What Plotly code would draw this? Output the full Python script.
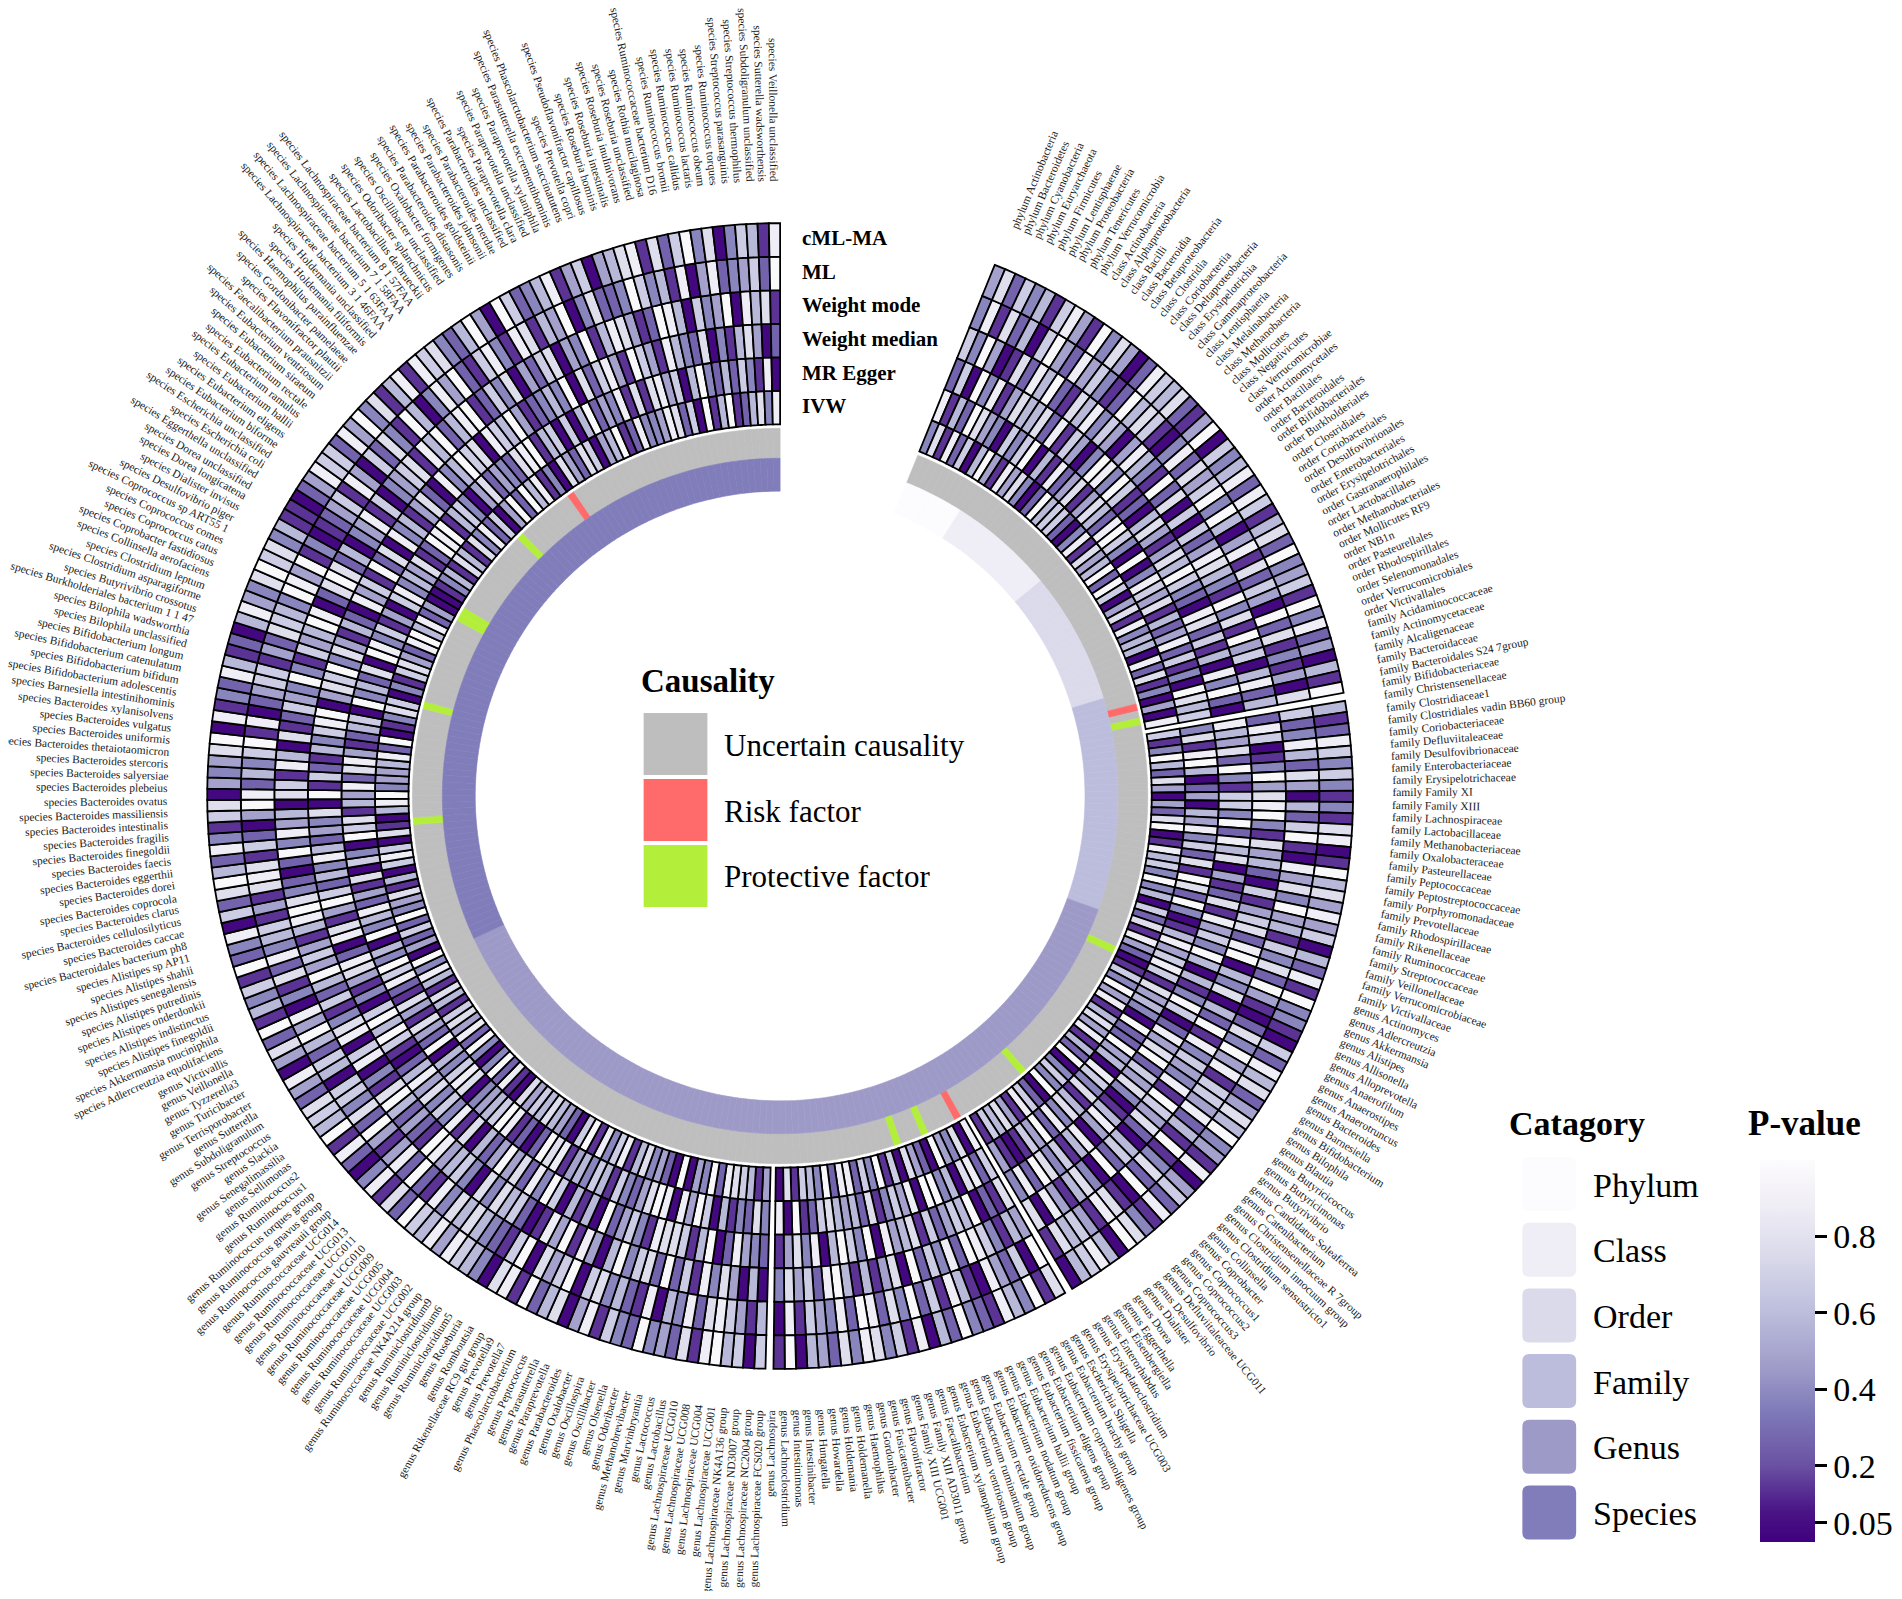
import math
import plotly.graph_objects as go

# taxa, clockwise from the gap at the top
PHYLUM = ["Actinobacteria", "Bacteroidetes", "Cyanobacteria", "Euryarchaeota", "Firmicutes",
          "Lentisphaerae", "Proteobacteria", "Tenericutes", "Verrucomicrobia"]
CLASS = ["Actinobacteria", "Alphaproteobacteria", "Bacilli", "Bacteroidia", "Betaproteobacteria",
         "Clostridia", "Coriobacteriia", "Deltaproteobacteria", "Erysipelotrichia", "Gammaproteobacteria",
         "Lentisphaeria", "Melainabacteria", "Methanobacteria", "Mollicutes", "Negativicutes",
         "Verrucomicrobiae"]
ORDER = ["Actinomycetales", "Bacillales", "Bacteroidales", "Bifidobacteriales", "Burkholderiales",
         "Clostridiales", "Coriobacteriales", "Desulfovibrionales", "Enterobacteriales", "Erysipelotrichales",
         "Gastranaerophilales", "Lactobacillales", "Methanobacteriales", "Mollicutes RF9", "NB1n",
         "Pasteurellales", "Rhodospirillales", "Selenomonadales", "Verrucomicrobiales", "Victivallales"]
FAMILY = ["Acidaminococcaceae", "Actinomycetaceae", "Alcaligenaceae", "Bacteroidaceae",
          "Bacteroidales S24 7group", "Bifidobacteriaceae", "Christensenellaceae", "Clostridiaceae1",
          "Clostridiales vadin BB60 group", "Coriobacteriaceae", "Defluviitaleaceae", "Desulfovibrionaceae",
          "Enterobacteriaceae", "Erysipelotrichaceae", "Family XI", "Family XIII", "Lachnospiraceae",
          "Lactobacillaceae", "Methanobacteriaceae", "Oxalobacteraceae", "Pasteurellaceae", "Peptococcaceae",
          "Peptostreptococcaceae", "Porphyromonadaceae", "Prevotellaceae", "Rhodospirillaceae",
          "Rikenellaceae", "Ruminococcaceae", "Streptococcaceae", "Veillonellaceae", "Verrucomicrobiaceae",
          "Victivallaceae"]
GENUS = ["Actinomyces", "Adlercreutzia", "Akkermansia", "Alistipes", "Allisonella", "Alloprevotella",
         "Anaerofilum", "Anaerostipes", "Anaerotruncus", "Bacteroides", "Barnesiella", "Bifidobacterium",
         "Bilophila", "Blautia", "Butyricicoccus", "Butyricimonas", "Butyrivibrio", "Candidatus Soleaferrea",
         "Catenibacterium", "Christensenellaceae R 7group", "Clostridium innocuum group",
         "Clostridium sensustricto1", "Collinsella", "Coprobacter", "Coprococcus1", "Coprococcus2",
         "Coprococcus3", "Defluviitaleaceae UCG011", "Desulfovibrio", "Dialister", "Dorea", "Eggerthella",
         "Eisenbergiella", "Enterorhabdus", "Erysipelatoclostridium", "Erysipelotrichaceae UCG003",
         "Escherichia Shigella", "Eubacterium brachy group", "Eubacterium coprostanoligenes group",
         "Eubacterium eligens group", "Eubacterium fissicatena group", "Eubacterium hallii group",
         "Eubacterium nodatum group", "Eubacterium oxidoreducens group", "Eubacterium rectale group",
         "Eubacterium ruminantium group", "Eubacterium ventriosum group", "Eubacterium xylanophilum group",
         "Faecalibacterium", "Family XIII AD3011 group", "Family XIII UCG001", "Flavonifractor",
         "Fusicatenibacter", "Gordonibacter", "Haemophilus", "Holdemanella", "Holdemania", "Howardella",
         "Hungatella", "Intestinibacter", "Intestinimonas", "Lachnoclostridium", "Lachnospira",
         "Lachnospiraceae FCS020 group", "Lachnospiraceae NC2004 group", "Lachnospiraceae ND3007 group",
         "Lachnospiraceae NK4A136 group", "Lachnospiraceae UCG001", "Lachnospiraceae UCG004",
         "Lachnospiraceae UCG008", "Lachnospiraceae UCG010", "Lactobacillus", "Lactococcus", "Marvinbryantia",
         "Methanobrevibacter", "Odoribacter", "Olsenella", "Oscillibacter", "Oscillospira", "Oxalobacter",
         "Parabacteroides", "Paraprevotella", "Parasutterella", "Peptococcus", "Phascolarctobacterium",
         "Prevotella7", "Prevotella9", "Rikenellaceae RC9 gut group", "Romboutsia", "Roseburia",
         "Ruminiclostridium5", "Ruminiclostridium6", "Ruminiclostridium9", "Ruminococcaceae NK4A214 group",
         "Ruminococcaceae UCG002", "Ruminococcaceae UCG003", "Ruminococcaceae UCG004",
         "Ruminococcaceae UCG005", "Ruminococcaceae UCG009", "Ruminococcaceae UCG010",
         "Ruminococcaceae UCG011", "Ruminococcaceae UCG013", "Ruminococcaceae UCG014",
         "Ruminococcus gauvreauii group", "Ruminococcus gnavus group", "Ruminococcus torques group",
         "Ruminococcus1", "Ruminococcus2", "Sellimonas", "Senegalimassilia", "Slackia", "Streptococcus",
         "Subdoligranulum", "Sutterella", "Terrisporobacter", "Turicibacter", "Tyzzerella3", "Veillonella",
         "Victivallis"]
SPECIES = ["Adlercreutzia equolifaciens", "Akkermansia muciniphila", "Alistipes finegoldii",
           "Alistipes indistinctus", "Alistipes onderdonkii", "Alistipes putredinis", "Alistipes senegalensis",
           "Alistipes shahii", "Alistipes sp AP11", "Bacteroidales bacterium ph8", "Bacteroides caccae",
           "Bacteroides cellulosilyticus", "Bacteroides clarus", "Bacteroides coprocola", "Bacteroides dorei",
           "Bacteroides eggerthii", "Bacteroides faecis", "Bacteroides finegoldii", "Bacteroides fragilis",
           "Bacteroides intestinalis", "Bacteroides massiliensis", "Bacteroides ovatus", "Bacteroides plebeius",
           "Bacteroides salyersiae", "Bacteroides stercoris", "Bacteroides thetaiotaomicron",
           "Bacteroides uniformis", "Bacteroides vulgatus", "Bacteroides xylanisolvens",
           "Barnesiella intestinihominis", "Bifidobacterium adolescentis", "Bifidobacterium bifidum",
           "Bifidobacterium catenulatum", "Bifidobacterium longum", "Bilophila unclassified",
           "Bilophila wadsworthia", "Burkholderiales bacterium 1 1 47", "Butyrivibrio crossotus",
           "Clostridium asparagiforme", "Clostridium leptum", "Collinsella aerofaciens",
           "Coprobacter fastidiosus", "Coprococcus catus", "Coprococcus comes", "Coprococcus sp ART55 1",
           "Desulfovibrio piger", "Dialister invisus", "Dorea longicatena", "Dorea unclassified",
           "Eggerthella unclassified", "Escherichia coli", "Escherichia unclassified", "Eubacterium biforme",
           "Eubacterium eligens", "Eubacterium hallii", "Eubacterium ramulus", "Eubacterium rectale",
           "Eubacterium siraeum", "Eubacterium ventriosum", "Faecalibacterium prausnitzii",
           "Flavonifractor plautii", "Gordonibacter pamelaeae", "Haemophilus parainfluenzae",
           "Holdemania filiformis", "Holdemania unclassified", "Lachnospiraceae bacterium 3 1 46FAA",
           "Lachnospiraceae bacterium 5 1 63FAA", "Lachnospiraceae bacterium 7 1 58FAA",
           "Lachnospiraceae bacterium 8 1 57FAA", "Lactobacillus delbrueckii", "Odoribacter splanchnicus",
           "Oscillibacter unclassified", "Oxalobacter formigenes", "Parabacteroides distasonis",
           "Parabacteroides goldsteinii", "Parabacteroides johnsonii", "Parabacteroides merdae",
           "Parabacteroides unclassified", "Paraprevotella clara", "Paraprevotella unclassified",
           "Paraprevotella xylaniphila", "Parasutterella excrementihominis",
           "Phascolarctobacterium succinatutens", "Prevotella copri", "Pseudoflavonifractor capillosus",
           "Roseburia hominis", "Roseburia intestinalis", "Roseburia inulinivorans", "Roseburia unclassified",
           "Rothia mucilaginosa", "Ruminococcaceae bacterium D16", "Ruminococcus bromii",
           "Ruminococcus callidus", "Ruminococcus lactaris", "Ruminococcus obeum", "Ruminococcus torques",
           "Streptococcus parasanguinis", "Streptococcus thermophilus", "Subdoligranulum unclassified",
           "Sutterella wadsworthensis", "Veillonella unclassified"]

LEVELS = ["Phylum", "Class", "Order", "Family", "Genus", "Species"]
LEVEL_COLORS = ["#fcfbfd", "#efedf5", "#dadaeb", "#bcbddc", "#9e9ac8", "#807dba"]

# MR methods, inner ring -> outer ring
METHODS = ["IVW", "MR Egger", "Weight median", "Weight mode", "ML", "cML-MA"]

P_LEVEL = [0.03, 0.14, 0.26, 0.38, 0.48, 0.58, 0.68, 0.78, 0.88, 0.97]
IVW_P = ("3718260594 1847302956 6203817459 2960471835 5082713040 8613952740 4279018563 9350627184 2016394815 7481529036 "
         "3902681475 6180734902 4706193628 8293561704 1567829340 9024375186 3819602457 5647018293 0392847615 7158390426 "
         "2934715068 6071058934 4582901376 0316742895 8240013517 5173826049 2958130742 7604591283 3487260915 9125738")
EGGER_P = ("8152974306 3690518247 1475289630 9038647152 4826130975 6371895024 0548362719 7293015846 8617453092 2945086371 "
           "5738294610 1462870539 9084631725 4576219083 7231506948 0897423615 6354187920 2189654307 8635092471 4712869350 "
           "9358241706 3096715482 7841256093 5270983614 0683547129 8915630472 4327891560 6059243817 1784605932 5263180")
WMEDIAN_P = ("2609381475 5728164039 8396120574 1475963208 7261508392 0854729316 6392857041 2718463950 5139602847 9264730158 "
             "4085163792 8371209564 2617548093 6950837412 3482095167 7813642905 1506938274 9425071836 3748520169 5960314782 "
             "0871496253 8524370916 2153689047 6937415208 4619270835 1472083596 7086594123 5390726841 9641853270 3157402")
WMODE_P = ("6394017285 9217583640 4853192706 0624875319 3719460582 5286013947 8931745206 1467289053 7052918364 3819647205 "
           "6290375148 0745136892 8362907415 1598264730 5047381629 2763950481 9481026573 7036548912 4259713086 0873162594 "
           "6415897320 2938450761 8507126439 3164598027 9725034816 0346718592 5891263704 2670439158 7412985063 4908571")
ML_P = ("3817250694 2846312957 6103827469 3950481726 4092713140 7623852740 5269108473 9451637294 1027394816 6482519137 "
        "2901781465 7190624801 5816293728 9283461805 1468728350 8125376096 4709612357 5738129284 1492736605 6259480317 "
        "2835614178 7162049825 3691802466 1427653984 9130124618 4062731950 3849216831 8715490372 2396351804 8234629")
CMLMA_P = ("4726351684 1937402865 7214906358 2861572934 6193824051 9512863631 3178019574 8460528193 3106285724 7593418046 "
           "2813790586 5071935812 3925081637 8372450916 0659817243 9236184075 2918703568 4856927183 0281956724 8047291536 "
           "1923806279 5283167043 4790813285 1205843796 7351102486 6284937158 1867325940 9623581460 4578172693 7036518")

RISK = ["family Alcaligenaceae", "genus Escherichia Shigella", "species Odoribacter splanchnicus"]
PROTECTIVE = ["family Bacteroidales S24 7group", "genus Allisonella", "genus Coprococcus2",
              "genus Eubacterium hallii group", "genus Eubacterium ruminantium group",
              "species Bacteroides fragilis", "species Bilophila unclassified", "species Dorea longicatena",
              "species Dorea unclassified", "species Gordonibacter pamelaeae"]
CAUSALITY = ["Uncertain causality", "Risk factor", "Protective factor"]
CAUSAL_COLORS = ["#bebebe", "#ff6a6a", "#b3ee3a"]

SERIF = "Liberation Serif"

# page geometry (body margin of 8px around the figure)
W, H, OFF = 1886, 1583, 8
CX, CY = 783 - OFF, 796 - OFF
RMAX = 580
START, END = 22.0, 360.0
R_HEAT_IN, R_HEAT_OUT = 373, 575
R_CAUS = (339, 369)
R_CAT = (306, 339)
R_LABEL = 613
SPLITS = [51, 112, 139]
GAP = 0.8

taxa, level_idx = [], []
for k, (lev, names) in enumerate(zip(LEVELS, [PHYLUM, CLASS, ORDER, FAMILY, GENUS, SPECIES])):
    taxa += [f"{lev.lower()} {t}" for t in names]
    level_idx += [k] * len(names)
n = len(taxa)

step = (END - START) / n
theta = [START + (i + 0.5) * step for i in range(n)]
hstep = (END - START - GAP * len(SPLITS)) / n
htheta = [START + (i + 0.5) * hstep + GAP * sum(i >= s for s in SPLITS) for i in range(n)]

codes = [s.replace(" ", "") for s in [IVW_P, EGGER_P, WMEDIAN_P, WMODE_P, ML_P, CMLMA_P]]
for c in codes:
    assert len(c) == n, (len(c), n)

COLORSCALE = [[0.0, "#3f007d"], [0.08, "#4a1486"], [0.2, "#6a51a3"], [0.35, "#807dba"],
              [0.45, "#9e9ac8"], [0.6, "#bcbddc"], [0.75, "#dadaeb"], [0.88, "#efedf5"], [1.0, "#fcfbfd"]]


def px(x, y):
    """page pixels -> paper coords"""
    return (x - OFF) / W, 1 - (y - OFF) / H


fig = go.Figure()

ring_h = (R_HEAT_OUT - R_HEAT_IN) / len(METHODS)
for k, (name, c) in enumerate(zip(METHODS, codes)):
    fig.add_trace(go.Barpolar(
        theta=htheta, r=[ring_h] * n, base=R_HEAT_IN + k * ring_h, width=hstep,
        marker=dict(color=[P_LEVEL[int(d)] for d in c], coloraxis="coloraxis",
                    line=dict(color="black", width=1.8)),
        name=name, showlegend=False, hoverinfo="skip",
    ))

caus = [1 if t in RISK else 2 if t in PROTECTIVE else 0 for t in taxa]
caus_col = [CAUSAL_COLORS[c] for c in caus]
fig.add_trace(go.Barpolar(
    theta=theta, r=[R_CAUS[1] - R_CAUS[0]] * n, base=R_CAUS[0], width=step,
    marker=dict(color=caus_col, line=dict(color=caus_col, width=0.6)),
    showlegend=False, hoverinfo="skip",
))

cat_col = [LEVEL_COLORS[k] for k in level_idx]
fig.add_trace(go.Barpolar(
    theta=theta, r=[R_CAT[1] - R_CAT[0]] * n, base=R_CAT[0], width=step,
    marker=dict(color=cat_col, line=dict(color=cat_col, width=0.6)),
    showlegend=False, hoverinfo="skip",
))

annotations = []

# taxon labels, written radially (a transparent twin keeps the visible text starting at R_LABEL)
hidden = '<span style="color:rgba(0,0,0,0)">{}</span>'
for t, a in zip(taxa, theta):
    rad = math.radians(a)
    x, y = px(CX + OFF + R_LABEL * math.sin(rad), CY + OFF - R_LABEL * math.cos(rad))
    if a < 180:
        txt, ang = hidden.format(t) + " " + t, a - 90
    else:
        txt, ang = t + " " + hidden.format(t), a - 270
    annotations.append(dict(x=x, y=y, xref="paper", yref="paper", text=txt, textangle=ang,
                            showarrow=False, xanchor="center", yanchor="middle",
                            font=dict(family=SERIF, size=11.5, color="#1a1a1a")))

# ring names at the top gap
for k, name in enumerate(METHODS):
    x, y = px(803, CY + OFF - (R_HEAT_IN + (k + 0.5) * ring_h))
    annotations.append(dict(x=x, y=y, xref="paper", yref="paper", text=f"<b>{name}</b>",
                            showarrow=False, xanchor="left", yanchor="middle",
                            font=dict(family=SERIF, size=21, color="black")))

shapes = []

# causality legend in the centre
x, y = px(711, 681)
annotations.append(dict(x=x, y=y, xref="paper", yref="paper", text="<b>Causality</b>", showarrow=False,
                        xanchor="center", yanchor="middle", font=dict(family=SERIF, size=33, color="black")))
for k, (lab, col) in enumerate(zip(CAUSALITY, CAUSAL_COLORS)):
    top = 713 + k * 66
    x0, y0 = px(646, top)
    x1, y1 = px(710, top + 62)
    shapes.append(dict(type="rect", xref="paper", yref="paper", x0=x0, x1=x1, y0=y1, y1=y0,
                       fillcolor=col, line=dict(width=0)))
    x, y = px(725, top + 32)
    annotations.append(dict(x=x, y=y, xref="paper", yref="paper", text=lab, showarrow=False,
                            xanchor="left", yanchor="middle", font=dict(family=SERIF, size=31, color="black")))


def rounded(xa, ya, xb, yb, rr=7):
    p = [px(xa + rr, ya), px(xb - rr, ya), px(xb, ya), px(xb, ya + rr), px(xb, yb - rr), px(xb, yb),
         px(xb - rr, yb), px(xa + rr, yb), px(xa, yb), px(xa, yb - rr), px(xa, ya + rr), px(xa, ya)]
    f = lambda q: f"{q[0]:.5f},{q[1]:.5f}"
    return (f"M{f(p[0])} L{f(p[1])} Q{f(p[2])} {f(p[3])} L{f(p[4])} Q{f(p[5])} {f(p[6])} "
            f"L{f(p[7])} Q{f(p[8])} {f(p[9])} L{f(p[10])} Q{f(p[11])} {f(p[0])} Z")


# category legend
x, y = px(1513, 1123)
annotations.append(dict(x=x, y=y, xref="paper", yref="paper", text="<b>Catagory</b>", showarrow=False,
                        xanchor="left", yanchor="middle", font=dict(family=SERIF, size=34, color="black")))
for k, (lab, col) in enumerate(zip(LEVELS, LEVEL_COLORS)):
    top = 1157 + k * 65.7
    shapes.append(dict(type="path", xref="paper", yref="paper", path=rounded(1528, top, 1582, top + 54),
                       fillcolor=col, line=dict(width=0)))
    x, y = px(1597, top + 28)
    annotations.append(dict(x=x, y=y, xref="paper", yref="paper", text=lab, showarrow=False,
                            xanchor="left", yanchor="middle", font=dict(family=SERIF, size=34, color="black")))

x, y = px(1811, 1123)
annotations.append(dict(x=x, y=y, xref="paper", yref="paper", text="<b>P-value</b>", showarrow=False,
                        xanchor="center", yanchor="middle", font=dict(family=SERIF, size=35, color="black")))

cbx, cby = px(1767, 1160)
fig.update_layout(
    width=W, height=H,
    margin=dict(l=0, r=0, t=0, b=0),
    paper_bgcolor="white",
    plot_bgcolor="white",
    showlegend=False,
    polar=dict(
        domain=dict(x=[(CX - RMAX) / W, (CX + RMAX) / W], y=[1 - (CY + RMAX) / H, 1 - (CY - RMAX) / H]),
        bgcolor="rgba(0,0,0,0)",
        hole=0,
        radialaxis=dict(range=[0, RMAX], visible=False),
        angularaxis=dict(rotation=90, direction="clockwise", visible=False),
    ),
    coloraxis=dict(
        colorscale=COLORSCALE, cmin=0, cmax=1,
        colorbar=dict(
            x=cbx, xanchor="left", y=cby, yanchor="top",
            thickness=55, thicknessmode="pixels", len=382, lenmode="pixels",
            xpad=0, ypad=0, outlinewidth=0,
            tickvals=[0.05, 0.2, 0.4, 0.6, 0.8], ticktext=["0.05", "0.2", "0.4", "0.6", "0.8"],
            ticks="outside", ticklen=12, tickwidth=3, tickcolor="black",
            tickfont=dict(family=SERIF, size=34, color="black"),
        ),
    ),
    annotations=annotations,
    shapes=shapes,
)

fig.write_html("out.html")
